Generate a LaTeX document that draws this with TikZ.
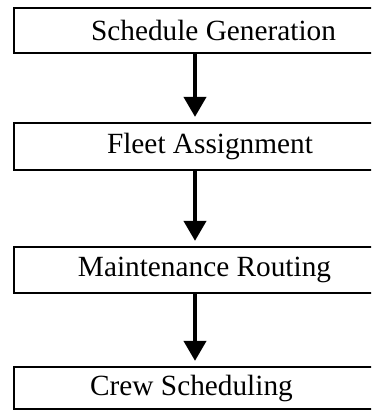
\documentclass[tikz,border=0pt]{standalone}
\usepackage{fontspec}
\setmainfont{Liberation Serif}
\usetikzlibrary{arrows.meta}

\begin{document}
\begin{tikzpicture}[x=1pt, y=-1pt, font=\fontsize{29.3}{34}\selectfont,
		stage/.style={draw, line width=2.2pt, minimum width=362pt, inner sep=0pt,
			label distance=0pt},
		flow/.style={line width=4pt, -{Triangle[width=22pt, length=20pt]}, shorten >=5pt}]
		\clip (0,0) rectangle (371,411);

		\node[stage, minimum height=45pt, label={[xshift=18.5pt]center:Schedule Generation}] (sched) at (195,30.5) {};
		\node[stage, minimum height=47pt, label={[xshift=15pt]center:Fleet Assignment}] (fleet) at (195,146.5) {};
		\node[stage, minimum height=46pt, label={[xshift=9.5pt]center:Maintenance Routing}] (maint) at (195,270) {};
		\node[stage, minimum height=42pt, label={[xshift=-3.5pt]center:Crew Scheduling}] (crew) at (195,388) {};

		\draw[flow] (sched) -- (fleet);
		\draw[flow] (fleet) -- (maint);
		\draw[flow] (maint) -- (crew);
	\end{tikzpicture}
\end{document}
